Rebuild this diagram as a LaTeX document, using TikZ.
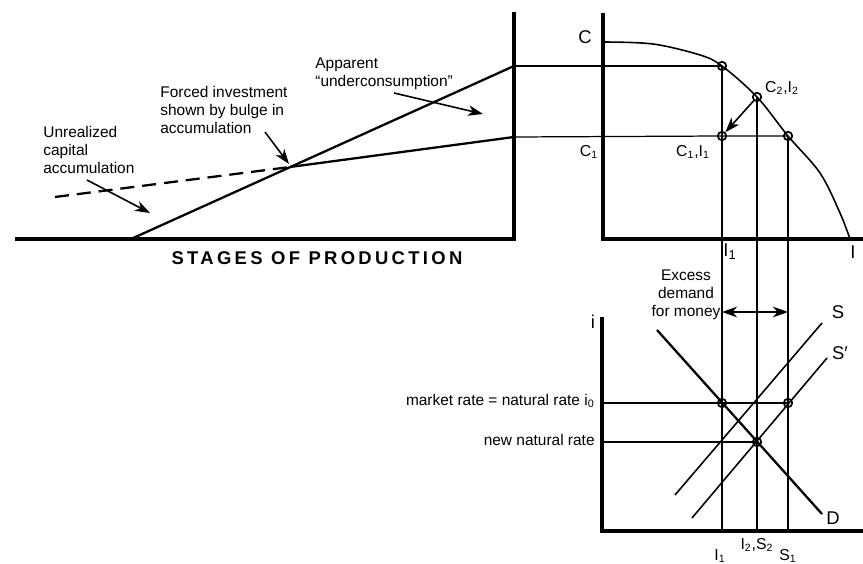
\documentclass[tikz,border=0pt]{standalone}
\usepackage{fontspec}
\setmainfont{Liberation Sans}
\newfontfamily\spacedfont{Liberation Sans}[LetterSpace=18]
\usepackage{tikz}
\usetikzlibrary{positioning, arrows.meta}

\begin{document}
\begin{tikzpicture}[x=0.02cm, y=-0.02cm,
  font=\fontsize{8.8}{10.2}\selectfont,
  >={Stealth[length=8.5pt,width=6pt,inset=2.5pt]},
  axisline/.style={line width=1.8pt},
  sched/.style={line width=1.3pt},
  guide/.style={line width=0.7pt},
  curve/.style={line width=0.9pt},
  dot/.style={circle, draw, line width=1pt, minimum size=4.8pt, inner sep=0pt},
  note/.style={align=left, inner sep=0pt, anchor=north west},
  var/.style={font=\fontsize{10.5}{12}\selectfont, inner sep=0pt},
  tag/.style={font=\fontsize{9}{10}\selectfont, inner sep=0pt},
  pointer/.style={->, line width=0.9pt}
]
\useasboundingbox (0,0) rectangle (863,564);

% stages of production
\coordinate (baseL) at (15,239);
\coordinate (wallB) at (514,239);
\coordinate (wallT) at (514,12);
\coordinate (start) at (131,239);
\coordinate (bulge) at (290,167);
\coordinate (topK) at (514,66);
\coordinate (lowK) at (514,137);
\coordinate (dashS) at (55,197);
\draw[axisline] (baseL) -- (wallB) -- (wallT);
\draw[sched] (start) -- (topK);
\draw[sched] (bulge) -- (lowK);
\draw[sched, dash pattern=on 8pt off 4.5pt] (dashS) -- (bulge);

\node[note] (unreal) at (43,126) {Unrealized\\capital\\accumulation};
\node[note] (forced) at (160,86) {Forced investment\\shown by bulge in\\accumulation};
\node[note] (underc) at (315,58) {Apparent\\“underconsumption”};
\node[font={\spacedfont\bfseries\fontsize{10.5}{12}\selectfont}, inner sep=0pt] (stages) at (317,258) {STAGES OF PRODUCTION};

\coordinate (unrTail) at (87,180);
\coordinate (unrHead) at (150,213);
\coordinate (forTail) at (265,132);
\coordinate (forHead) at (289,164);
\coordinate (undTail) at (394,93);
\coordinate (undHead) at (483,114);
\draw[pointer] (unrTail) -- (unrHead);
\draw[pointer] (forTail) -- (forHead);
\draw[pointer] (undTail) -- (undHead);

% production possibilities
\coordinate (ppfTop) at (603,13);
\coordinate (ppfO) at (603,239);
\coordinate (ppfEnd) at (863,239);
\draw[axisline] (ppfTop) -- (ppfO) -- (ppfEnd);
\draw[curve] plot[smooth, tension=0.55] coordinates {(603,42) (653,44) (700,55) (722,66) (757,97) (788,136) (820,173) (840,213) (850,239)};

\node[dot] (cOld) at (722,66) {};
\node[dot] (cNew) at (757,97) {};
\node[dot] (cI1) at (722,136) {};
\node[dot] (cS1) at (788,136) {};

\draw[guide] (topK) -- (cOld.center);
\draw[guide] (lowK) -- (cI1.center) -- (cS1.center);
\draw[pointer] (cNew) -- (cI1);

\node[var] (labC) at (585,37) {C};
\node[tag] (labC1) at (589,152) {C\textsubscript{1}};
\node[tag] (labCI1) at (693,152) {C\textsubscript{1},I\textsubscript{1}};
\node[tag] (labCI2) at (782,88) {C\textsubscript{2},I\textsubscript{2}};
\node[var] (labI1) at (730,252) {I\textsubscript{1}};
\node[var] (labI) at (853,252) {I};

% loanable funds
\coordinate (rateTop) at (602,317);
\coordinate (rateO) at (602,531);
\coordinate (rateEnd) at (863,531);
\draw[axisline] (rateTop) -- (rateO) -- (rateEnd);

\coordinate (dA) at (657,330);
\coordinate (dB) at (822,514);
\coordinate (sA) at (675,495);
\coordinate (sB) at (822,323);
\coordinate (spA) at (692,518);
\coordinate (spB) at (827,358);
\draw[sched] (dA) -- (dB);
\draw[curve] (sA) -- (sB);
\draw[curve] (spA) -- (spB);

\node[dot] (mI1) at (722,403) {};
\node[dot] (mS1) at (788,403) {};
\node[dot] (nNew) at (757,442) {};

\coordinate (mktO) at (602,403);
\coordinate (newO) at (602,442);
\draw[guide] (mktO) -- (mI1.center) -- (mS1.center);
\draw[guide] (newO) -- (nNew.center);

\coordinate (footI1) at (722,531);
\coordinate (footI2) at (757,531);
\coordinate (footS1) at (788,531);
\draw[guide] (cOld.center) -- (footI1);
\draw[guide] (cNew.center) -- (footI2);
\draw[guide] (cS1.center) -- (footS1);

\coordinate (exL) at (722,312);
\coordinate (exR) at (788,312);
\draw[<->, line width=0.9pt] (exL) -- (exR);
\node[align=center, inner sep=0pt] (excess) at (686,295) {Excess\\demand\\for money};

\node[anchor=east, inner sep=0pt] (mktlbl) at (595,401) {market rate = natural rate i\textsubscript{0}};
\node[anchor=east, inner sep=0pt] (newlbl) at (595,440) {new natural rate};

\node[var] (labi) at (593,322) {i};
\node[var] (labS) at (838,312) {S};
\node[var] (labSp) at (840,353) {S′};
\node[var] (labD) at (833,518) {D};
\node[tag] (botI1) at (720,556) {I\textsubscript{1}};
\node[tag] (botI2) at (757,545) {I\textsubscript{2},S\textsubscript{2}};
\node[tag] (botS1) at (788,556) {S\textsubscript{1}};
\end{tikzpicture}
\end{document}
